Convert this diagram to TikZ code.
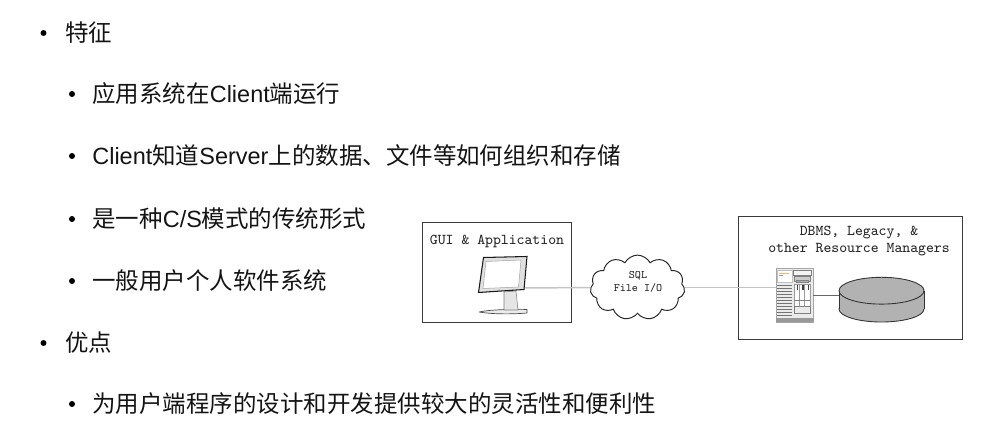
\documentclass[tikz,border=0pt]{standalone}
\usepackage{fontspec}
\setmainfont{Liberation Sans}
\newfontfamily\cjk{Noto Sans CJK SC}
\usetikzlibrary{shapes.symbols}
\definecolor{linkgray}{HTML}{C4C4C4}
\definecolor{diskgray}{HTML}{B2B2B2}
\definecolor{framegray}{HTML}{3A3A3A}
\newcommand{\zh}[1]{{\cjk #1}}
\tikzset{
	bullet/.style={circle, fill=black, inner sep=0pt, minimum size=6*0.567pt},
	item/.style={anchor=west, inner sep=0pt, font=\fontsize{13.37}{15}\selectfont, text=black!92},
	frame/.style={draw=framegray, line width=0.5pt, fill=white},
	mono/.style={font=\fontsize{8.55}{9.5}\selectfont\ttfamily, text=black!85, align=center, inner sep=0pt},
	link/.style={draw=linkgray, line width=0.85pt},
	disk/.style={draw=black!80, line width=0.5pt, fill=diskgray},
}
\begin{document}
\begin{tikzpicture}[x=0.02cm, y=-0.02cm]
		\useasboundingbox (0, 0) rectangle (1007, 439);
		
		%%%%% TEXT %%%%%
		\node[bullet] (b1) at (43.5, 33) {};
		\node[item] (t1) at (65, 32.5) {\zh{特征}};
		
		\node[bullet] (b2) at (72, 94) {};
		\node[item] (t2) at (92, 93.5) {\zh{应用系统在}Client\zh{端运行}};
		
		\node[bullet] (b3) at (72, 156) {};
		\node[item] (t3) at (92, 155.5) {Client\zh{知道}Server\zh{上的数据、文件等如何组织和存储}};
		
		\node[bullet] (b4) at (72, 219) {};
		\node[item] (t4) at (92, 218.5) {\zh{是一种}C/S\zh{模式的传统形式}};
		
		\node[bullet] (b5) at (72, 281) {};
		\node[item] (t5) at (92, 280.5) {\zh{一般用户个人软件系统}};
		
		\node[bullet] (b6) at (43.5, 343) {};
		\node[item] (t6) at (65, 342.5) {\zh{优点}};
		
		\node[bullet] (b7) at (72, 404) {};
		\node[item] (t7) at (92, 403.5) {\zh{为用户端程序的设计和开发提供较大的灵活性和便利性}};
		
		%%%%% BOXES %%%%%
		\draw[frame] (422.5, 222.5) rectangle (571.5, 322.5);
		\draw[frame] (738.5, 216.5) rectangle (962.5, 339.5);
		\node[mono] (guilabel) at (497, 241) {GUI \& Application};
		\node[mono] (dbmslabel) at (859, 241) {DBMS, Legacy, \&\\other Resource Managers};
		
		%%%%% NODES %%%%%
		\coordinate (monitor) at (524, 288);
		\node[cloud, draw=black!85, fill=white, line width=0.55pt, cloud puffs=11, cloud puff arc=125, aspect=1.5,
			minimum width=95*0.567pt, minimum height=65*0.567pt, inner sep=0pt] (cloud) at (637.5, 287.5) {};
		\node[mono, font=\fontsize{6.5}{7}\selectfont\ttfamily] (cloudlabel) at (638, 282) {SQL\\File I/O};
		\node[draw=black!35, fill=black!8, line width=0.3pt, minimum width=37*0.567pt, minimum height=54*0.567pt, inner sep=0pt] (server) at (794.5, 295) {};
		\coordinate (disk) at (839, 295);
		
		%%%%% LINKS %%%%%
		\draw[link] (monitor) -- (cloud.west);
		\draw[link] (cloud.east) -- (server.west |- cloud.east);
		\draw[draw=black!60, line width=0.4pt] (server.east) -- (disk);
		
		%%%%% DISK %%%%%
		\draw[disk] (881.5, 309) ellipse (42.5 and 13);
		\fill[diskgray] (839, 291) rectangle (924, 309);
		\draw[draw=black!80, line width=0.5pt] (839, 291) -- (839, 309);
		\draw[draw=black!80, line width=0.5pt] (924, 291) -- (924, 309);
		\draw[disk] (881.5, 290.7) ellipse (42.5 and 13.4);
		
		%%%%% MONITOR %%%%%
		\draw[draw=black!70, fill=black!8, line width=0.4pt] (479, 312) .. controls (490, 309.5) and (515, 309) .. (527, 309.5) -- (527, 313) .. controls (510, 314.5) and (490, 314) .. (479, 312);
		\draw[draw=black!50, fill=black!10, line width=0.3pt] (504, 292) -- (516, 291) -- (518, 310) -- (504, 310) -- cycle;
		\draw[draw=black!90, fill=black!12, line width=0.6pt] (483.5, 257.5) -- (527, 256.5) -- (524, 289.5) -- (478.5, 292.5) -- cycle;
		\draw[draw=black!35, fill=white, line width=0.3pt] (486, 261.5) -- (521, 260) -- (518.5, 287) -- (483, 288.5) -- cycle;
		\fill[black!70] (499, 290) circle (0.5);
		
		%%%%% SERVER %%%%%
		\draw[draw=black!25, fill=white, line width=0.3pt] (777, 270) rectangle (792, 282);
		\draw[draw=orange!60, line width=0.25pt] (779, 273) -- (789, 273);
		\draw[draw=black!40, line width=0.25pt] (779, 275) -- (783, 275);
		\foreach \ypos in {285, 288, 291, 294, 297, 300, 303, 306, 309, 312, 315} {
			\draw[draw=black!55, line width=0.45pt] (777, \ypos) -- (792, \ypos);
		}
		\draw[draw=black!50, fill=black!4, line width=0.3pt] (793, 270) rectangle (811, 275);
		\draw[draw=black!50, fill=black!20, line width=0.3pt] (794, 276) rectangle (810, 281);
		\draw[draw=black!50, fill=black!30, line width=0.3pt] (796, 280) rectangle (808, 282.5);
		\draw[draw=black!40, fill=white, line width=0.3pt] (794, 284) rectangle (810, 312);
		\foreach \xpos in {799, 804.5} {
			\draw[draw=black!40, line width=0.3pt] (\xpos, 284) -- (\xpos, 312);
		}
		\foreach \xpos in {796.5, 802, 807.5} {
			\fill[black!75] (\xpos, 285) rectangle (\xpos+1.5, 290);
		}
		\draw[draw=black!50, line width=0.3pt] (794, 300) -- (810, 300);
		\draw[draw=black!50, fill=black!8, line width=0.3pt] (794, 306) rectangle (810, 313);
		\fill[black!40] (776, 317.5) rectangle (813, 322);
\end{tikzpicture}
\end{document}
